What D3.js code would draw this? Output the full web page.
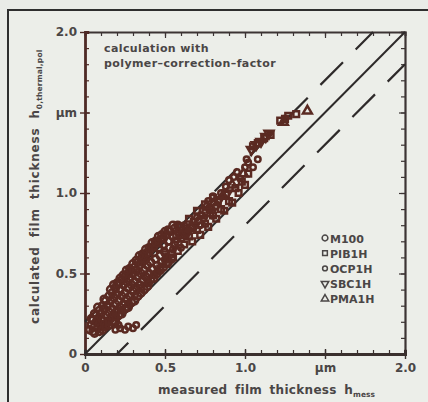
<!DOCTYPE html>
<html><head><meta charset="utf-8">
<script src="https://cdn.jsdelivr.net/npm/d3@7"></script>
<style>
html,body{margin:0;padding:0;background:#e9ebe7;overflow:hidden;}
text{font-family:"DejaVu Sans",sans-serif;fill:#4a4646;}
</style></head>
<body>
<svg id="c" width="428" height="402"></svg>
<script>
// ---- data ----
const seriesNames = ["M100","PIB1H","OCP1H","SBC1H","PMA1H"];
const M100 = [[0.03,0.15],[0.04,0.18],[0.05,0.14],[0.05,0.21],[0.06,0.17],[0.07,0.2],[0.07,0.24],[0.08,0.16],[0.08,0.22],[0.09,0.19],[0.1,0.25],[0.1,0.17],
 [0.11,0.21],[0.12,0.28],[0.12,0.18],[0.13,0.24],[0.14,0.3],[0.14,0.2],[0.15,0.26],[0.16,0.33],[0.16,0.22],[0.17,0.28],[0.18,0.24],[0.18,0.35],[0.19,0.31],[0.2,0.27],[0.2,0.37],
 [0.21,0.33],[0.22,0.29],[0.22,0.4],[0.23,0.36],[0.24,0.31],[0.24,0.43],[0.25,0.38],[0.26,0.34],[0.26,0.45],[0.27,0.41],[0.28,0.36],[0.28,0.47],[0.29,0.43],[0.3,0.39],[0.3,0.5],
 [0.31,0.45],[0.32,0.41],[0.32,0.52],[0.33,0.48],[0.34,0.43],[0.34,0.55],[0.35,0.5],[0.36,0.46],[0.36,0.57],[0.37,0.52],[0.38,0.48],[0.38,0.59],[0.39,0.55],[0.4,0.5],[0.4,0.61],
 [0.41,0.57],[0.42,0.53],[0.43,0.63],[0.44,0.59],[0.45,0.55],[0.46,0.66],[0.47,0.61],[0.48,0.57],[0.49,0.68],[0.5,0.63],[0.51,0.6],[0.52,0.7],[0.53,0.66],[0.54,0.62],[0.55,0.73],
 [0.04,0.22],[0.06,0.25],[0.09,0.27],[0.11,0.3],[0.13,0.33],[0.15,0.36],[0.17,0.38],[0.19,0.41],[0.21,0.44],[0.23,0.46],[0.25,0.48],[0.27,0.5],[0.29,0.52],[0.31,0.54],[0.33,0.57],[0.35,0.59],[0.37,0.61],[0.39,0.63],[0.41,0.65],[0.43,0.67],[0.45,0.69],[0.47,0.71],[0.49,0.72],[0.51,0.74],[0.53,0.76],[0.56,0.78],[0.58,0.8],
 [0.06,0.13],[0.09,0.14],[0.11,0.15],[0.13,0.17],[0.15,0.18],[0.17,0.2],[0.19,0.2],[0.21,0.24],[0.23,0.25],[0.25,0.28],[0.27,0.29],[0.29,0.32],[0.31,0.33],[0.33,0.36],[0.35,0.38],[0.37,0.4],[0.39,0.42],[0.41,0.46],[0.43,0.47],[0.45,0.5],[0.47,0.52],[0.49,0.54],[0.52,0.57],[0.54,0.59],
 [0.16,0.4],[0.2,0.44],[0.24,0.49],[0.28,0.53],[0.32,0.58],[0.36,0.62],[0.4,0.66],[0.44,0.7],[0.48,0.74],[0.52,0.77],
 [0.08,0.29],[0.12,0.34],[0.18,0.43],[0.22,0.47],[0.26,0.52],[0.3,0.56],[0.34,0.61],[0.38,0.65],[0.42,0.69],[0.46,0.73],[0.5,0.76],[0.55,0.8]];
const PIB1H = [[0.15,0.2],[0.19,0.23],[0.23,0.27],[0.27,0.31],[0.31,0.36],[0.35,0.41],[0.39,0.45],[0.43,0.49],[0.47,0.53],[0.51,0.56],[0.55,0.6],[0.56,0.68],[0.58,0.64],[0.6,0.72],[0.62,0.68],[0.63,0.78],[0.65,0.73],[0.67,0.7],[0.68,0.82],[0.7,0.77],[0.72,0.74],[0.73,0.86],[0.75,0.81],[0.77,0.79],[0.78,0.9],[0.8,0.86],[0.82,0.84],[0.83,0.95],[0.85,0.9],[0.87,0.89],[0.88,0.99],[0.9,0.95],[0.92,0.94],[0.94,1.03],[0.96,1.0],[0.98,1.07],[1.0,1.05],[1.02,1.12],[1.05,1.29],[1.08,1.31],[1.12,1.34],[1.16,1.36],[1.22,1.45],[1.25,1.46],[1.27,1.48],[1.32,1.49],
 [0.6,0.79],[0.65,0.84],[0.7,0.89],[0.75,0.93],[0.8,0.97],[0.57,0.74],[0.62,0.74],[0.67,0.78]];
const OCP1H = [[0.19,0.15],[0.22,0.16],[0.25,0.15],[0.27,0.17],[0.3,0.16],[0.32,0.18],[0.21,0.18],
 [0.4,0.44],[0.45,0.51],[0.5,0.58],[0.55,0.65],[0.58,0.76],[0.6,0.66],[0.62,0.8],[0.65,0.77],[0.7,0.85],[0.72,0.8],[0.75,0.88],[0.77,0.95],[0.8,0.98],[0.82,0.92],[0.85,1.0],[0.88,1.04],[0.9,1.08],[0.93,1.1],[0.95,1.13],[0.97,1.09],[1.0,1.16],[1.02,1.19],[1.05,1.16],[1.08,1.21],[1.01,1.21]];
const SBC1H = [[0.5,0.62],[0.57,0.7],[0.64,0.75],[0.69,0.8],[0.74,0.84],[0.79,0.88],[0.84,0.96],[0.89,1.0],[1.04,1.27],[1.07,1.3],[1.1,1.32],[1.13,1.35],[1.15,1.37]];
const PMA1H = [[0.6,0.74],[0.66,0.79],[0.71,0.83],[0.76,0.92],[0.81,0.94],[0.86,0.98],[0.92,1.05],[0.99,1.12],[1.24,1.44],[1.39,1.51]];
const tickValues = [0, 0.5, 1.0, 1.5, 2.0];
const tickLabels = ["0", "0.5", "1.0", "\u00b5m", "2.0"];
const bandOffset = 0.2; // dashed lines: y = x +/- 0.2

// ---- drawing ----
const svg = d3.select("#c");
const x = d3.scaleLinear().domain([0, 2]).range([85, 405]);
const y = d3.scaleLinear().domain([0, 2]).range([354, 32]);
const ink = "#3c3434", brown = "#4e2a26", dataCol = "#5a2a22";

// outer frame
svg.append("rect").attr("x", 8).attr("y", 10).attr("width", 440).attr("height", 420)
  .attr("fill", "#eceee9").attr("stroke", "#2e2e2e").attr("stroke-width", 2);

const minor = d3.range(0, 21).map(i => i / 10);
const fmt = d => tickLabels[tickValues.indexOf(d)];

// top axis (ticks inward)
svg.append("g").attr("transform", `translate(0,${y(2)})`)
  .call(d3.axisTop(x).tickValues(minor).tickSize(-4).tickFormat(""))
  .call(g => { g.select(".domain").attr("stroke", ink).attr("stroke-width", 2); g.selectAll(".tick line").attr("stroke", ink).attr("stroke-width", 1.2); });
svg.append("g").attr("transform", `translate(0,${y(2)})`)
  .call(d3.axisTop(x).tickValues(tickValues).tickSize(-6).tickFormat(""))
  .call(g => { g.select(".domain").remove(); g.selectAll(".tick line").attr("stroke", ink).attr("stroke-width", 1.2); });
// right axis (ticks inward)
svg.append("g").attr("transform", `translate(${x(2)},0)`)
  .call(d3.axisRight(y).tickValues(minor).tickSize(-4).tickFormat(""))
  .call(g => { g.select(".domain").attr("stroke", ink).attr("stroke-width", 2.2); g.selectAll(".tick line").attr("stroke", ink).attr("stroke-width", 1.2); });
svg.append("g").attr("transform", `translate(${x(2)},0)`)
  .call(d3.axisRight(y).tickValues(tickValues).tickSize(-6).tickFormat(""))
  .call(g => { g.select(".domain").remove(); g.selectAll(".tick line").attr("stroke", ink).attr("stroke-width", 1.2); });

// left axis
svg.append("g").attr("transform", `translate(${x(0)},0)`)
  .call(d3.axisLeft(y).tickValues(minor).tickSize(-4).tickFormat(""))
  .call(g => { g.select(".domain").attr("stroke", brown).attr("stroke-width", 2.8); g.selectAll(".tick line").attr("stroke", brown).attr("stroke-width", 1.2); });
svg.append("g").attr("transform", `translate(${x(0)},0)`)
  .call(d3.axisLeft(y).tickValues(tickValues).tickSize(5).tickPadding(3).tickFormat(fmt))
  .call(g => {
    g.select(".domain").remove();
    g.selectAll(".tick line").attr("x1", 5).attr("stroke", brown).attr("stroke-width", 1.4);
    g.selectAll(".tick text").attr("font-size", 12).attr("font-weight", "bold").attr("fill", "#4a4646").attr("font-family", "DejaVu Sans");
  });

// bottom axis
svg.append("g").attr("transform", `translate(0,${y(0)})`)
  .call(d3.axisBottom(x).tickValues(minor).tickSize(-4).tickFormat(""))
  .call(g => { g.select(".domain").attr("stroke", "#3a302e").attr("stroke-width", 3); g.selectAll(".tick line").attr("stroke", "#3a302e").attr("stroke-width", 1.2); });
svg.append("g").attr("transform", `translate(0,${y(0)})`)
  .call(d3.axisBottom(x).tickValues(tickValues).tickSize(5).tickPadding(4).tickFormat(fmt))
  .call(g => {
    g.select(".domain").remove();
    g.selectAll(".tick line").attr("y1", -5).attr("stroke", "#3a302e").attr("stroke-width", 1.4);
    g.selectAll(".tick text").attr("font-size", 12).attr("font-weight", "bold").attr("fill", "#4a4646").attr("font-family", "DejaVu Sans");
  });

// reference lines
const line = d3.line().x(d => x(d[0])).y(d => y(d[1]));
svg.append("path").attr("d", line([[0, 0], [2, 2]])).attr("stroke", "#2e2a2a").attr("stroke-width", 2).attr("fill", "none");
svg.append("path").attr("d", line([[0, bandOffset], [2 - bandOffset, 2]])).attr("stroke", "#2e2a2a").attr("stroke-width", 2.2)
  .attr("fill", "none").attr("stroke-dasharray", "32,18").attr("stroke-dashoffset", 16);
svg.append("path").attr("d", line([[bandOffset, 0], [2, 2 - bandOffset]])).attr("stroke", "#2e2a2a").attr("stroke-width", 2.2)
  .attr("fill", "none").attr("stroke-dasharray", "32,18").attr("stroke-dashoffset", 16);

// data
const symbols = {
  M100: d3.symbol(d3.symbolCircle, 40),
  PIB1H: d3.symbol(d3.symbolSquare, 32),
  OCP1H: d3.symbol(d3.symbolCircle, 24),
  SBC1H: d3.symbol(d3.symbolTriangle, 34),
  PMA1H: d3.symbol(d3.symbolTriangle, 34)
};
const rot = { SBC1H: 180 };
const allData = { M100, PIB1H, OCP1H, SBC1H, PMA1H };
const plotG = svg.append("g");
seriesNames.forEach(name => {
  plotG.selectAll(null).data(allData[name]).join("path")
    .attr("d", symbols[name])
    .attr("transform", d => `translate(${x(d[0])},${y(d[1])}) rotate(${rot[name] || 0})`)
    .attr("fill", "none").attr("stroke", dataCol).attr("stroke-width", 2.5);
});

// legend
const legSym = {
  M100: d3.symbol(d3.symbolCircle, 26), PIB1H: d3.symbol(d3.symbolSquare, 22), OCP1H: d3.symbol(d3.symbolCircle, 18),
  SBC1H: d3.symbol(d3.symbolTriangle, 24), PMA1H: d3.symbol(d3.symbolTriangle, 24)
};
const leg = svg.append("g").attr("transform", "translate(325,238)");
seriesNames.forEach((name, i) => {
  const gy = i * 15.2;
  leg.append("path").attr("d", legSym[name]).attr("transform", `translate(0,${gy}) rotate(${rot[name] || 0})`)
    .attr("fill", "none").attr("stroke", "#4a4646").attr("stroke-width", 1.5);
  leg.append("text").attr("x", 5).attr("y", gy + 4.5).attr("font-size", 11).attr("font-weight", "bold").text(name);
});

// annotation
svg.append("text").attr("x", 104).attr("y", 52).attr("font-size", 11).attr("font-weight", "bold").attr("letter-spacing", 0.4).text("calculation with");
svg.append("text").attr("x", 104).attr("y", 67).attr("font-size", 11).attr("font-weight", "bold").attr("letter-spacing", 0.4).text("polymer\u2013correction\u2013factor");

// axis titles
const xt = svg.append("text").attr("x", 158).attr("y", 394).attr("font-size", 12).attr("font-weight", "bold")
  .attr("letter-spacing", 0.3).attr("word-spacing", 3);
xt.append("tspan").text("measured film thickness h");
xt.append("tspan").attr("font-size", 7.5).attr("dy", 3).attr("letter-spacing", 0).attr("word-spacing", 0).text("mess");

const yt = svg.append("text").attr("transform", "translate(39,324) rotate(-90)").attr("font-size", 12).attr("font-weight", "bold")
  .attr("letter-spacing", 0.8).attr("word-spacing", 4);
yt.append("tspan").text("calculated film thickness h");
yt.append("tspan").attr("font-size", 7.5).attr("dy", 3).attr("letter-spacing", 0.2).attr("word-spacing", 0).text("0,thermal,pol");
</script>
</body></html>
